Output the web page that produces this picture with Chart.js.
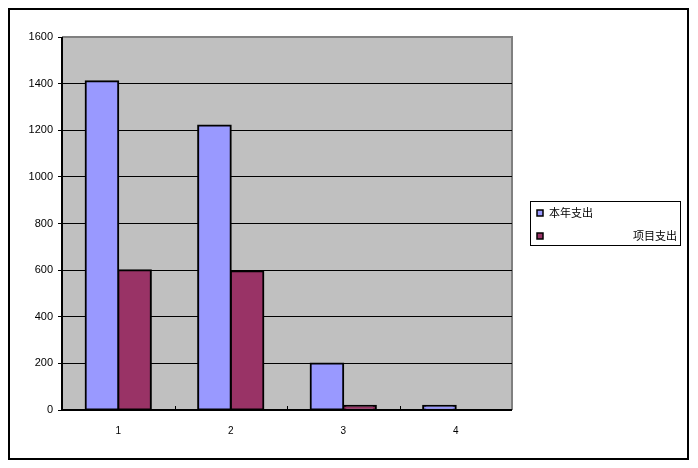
<!DOCTYPE html>
<html><head><meta charset="utf-8">
<script src="https://cdn.jsdelivr.net/npm/chart.js@4/dist/chart.umd.min.js"></script>
<style>html,body{margin:0;padding:0;background:#fff}#wrap{width:698px;height:468px}</style>
</head><body><div id="wrap"><canvas id="c" width="698" height="468"></canvas></div>
<script>
const categories = ['1', '2', '3', '4'];
const seriesNames = ['本年支出', '项目支出'];
const thisYearSpend = [1410, 1220, 200, 18];
const projectSpend = [600, 595, 18, 0];
const yTicks = [0, 200, 400, 600, 800, 1000, 1200, 1400, 1600];
const colors = ['#9999FF', '#993366'];

const framePlugin = {
  id: 'frame',
  beforeDraw(chart) {
    const {ctx, chartArea: a} = chart;
    ctx.save();
    ctx.fillStyle = '#fff';
    ctx.fillRect(0, 0, chart.width, chart.height);
    ctx.fillStyle = '#C0C0C0';
    ctx.fillRect(a.left, a.top, a.right - a.left, a.bottom - a.top);
    ctx.strokeStyle = '#808080';
    ctx.lineWidth = 2;
    ctx.beginPath();
    ctx.moveTo(a.left, a.top); ctx.lineTo(a.right, a.top); ctx.lineTo(a.right, a.bottom);
    ctx.stroke();
    ctx.restore();
  },
  afterDraw(chart) {
    const {ctx, chartArea: a} = chart;
    const xs = chart.scales.x;
    ctx.save();
    ctx.strokeStyle = '#000';
    ctx.lineWidth = 2;
    ctx.beginPath();
    ctx.moveTo(a.left, a.top); ctx.lineTo(a.left, a.bottom); ctx.lineTo(a.right, a.bottom);
    ctx.stroke();
    ctx.lineWidth = 1;
    for (let i = 1; i < categories.length; i++) {
      const x = Math.round((xs.getPixelForTick(i - 1) + xs.getPixelForTick(i)) / 2) + 0.5;
      ctx.beginPath(); ctx.moveTo(x, a.bottom); ctx.lineTo(x, a.bottom - 4); ctx.stroke();
    }
    ctx.lineWidth = 2;
    ctx.strokeRect(9, 9, 679, 450);
    ctx.lineWidth = 1;
    ctx.strokeRect(530.5, 201.5, 150, 44);
    const ys = [213, 236];
    ctx.font = '11px "Noto Sans CJK SC", sans-serif';
    ctx.textBaseline = 'middle';
    for (let i = 0; i < 2; i++) {
      ctx.fillStyle = colors[i];
      ctx.fillRect(537, ys[i] - 3, 6, 6);
      ctx.strokeStyle = '#000';
      ctx.lineWidth = 1.5;
      ctx.strokeRect(537, ys[i] - 3, 6, 6);
      ctx.fillStyle = '#000';
      if (i === 0) { ctx.textAlign = 'left'; ctx.fillText(seriesNames[i], 549, ys[i]); }
      else { ctx.textAlign = 'right'; ctx.fillText(seriesNames[i], 677, ys[i]); }
    }
    ctx.restore();
  }
};

new Chart(document.getElementById('c'), {
  type: 'bar',
  data: {
    labels: categories,
    datasets: [
      {label: seriesNames[0], data: thisYearSpend, backgroundColor: colors[0], borderColor: '#000', borderWidth: 2, borderSkipped: false, inflateAmount: 1},
      {label: seriesNames[1], data: projectSpend, backgroundColor: colors[1], borderColor: '#000', borderWidth: 2, borderSkipped: false, inflateAmount: 1}
    ]
  },
  options: {
    responsive: false,
    animation: false,
    devicePixelRatio: 1,
    layout: {padding: {left: 0, top: 37, right: 186, bottom: 0}},
    plugins: {legend: {display: false}, tooltip: {enabled: false}},
    datasets: {bar: {categoryPercentage: 0.58, barPercentage: 1.0}},
    scales: {
      x: {
        grid: {display: false, drawTicks: false},
        border: {display: false},
        ticks: {color: '#000', font: {family: 'Liberation Sans, Arial', size: 10}, padding: 15},
        afterFit(s) { s.height = 58; }
      },
      y: {
        min: 0, max: 1600,
        afterBuildTicks(s) { s.ticks = yTicks.map(v => ({value: v})); },
        grid: {
          color: ctx => (ctx.tick && ctx.tick.value === 1600) ? '#808080' : '#000',
          lineWidth: 1, drawTicks: true, tickLength: 4, tickColor: '#000'
        },
        border: {display: false},
        ticks: {color: '#000', font: {family: 'Liberation Sans, Arial', size: 11}, padding: 5, callback: v => String(v)},
        afterFit(s) { s.width = 62; }
      }
    }
  },
  plugins: [framePlugin]
});
</script>
</body></html>
